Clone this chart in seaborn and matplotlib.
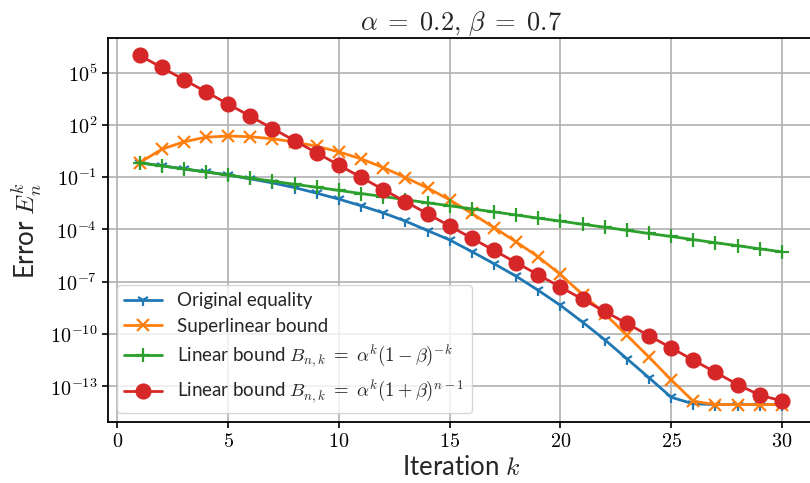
import matplotlib
matplotlib.use("Agg")
import matplotlib.pyplot as plt
import matplotlib.ticker as mticker
import seaborn as sns
import numpy as np

# iterations
k = list(range(1, 31))

# log10 of the error
log_original = [-0.17, -0.35, -0.53, -0.70, -0.88, -1.10, -1.33, -1.60, -1.92, -2.26,
                -2.64, -3.05, -3.52, -4.06, -4.60, -5.27, -5.96, -6.68, -7.49, -8.35,
                -9.31, -10.32, -11.41, -12.50, -13.62, -14.00, -14.04, -14.04, -14.04, -14.04]
log_superlinear = [-0.17, 0.60, 1.03, 1.29, 1.36, 1.32, 1.20, 1.02, 0.77, 0.45,
                   0.05, -0.45, -1.02, -1.62, -2.30, -3.08, -3.89, -4.71, -5.57, -6.58,
                   -7.73, -8.83, -10.07, -11.32, -12.62, -13.85, -14.04, -14.04, -14.04, -14.04]
log_linear1 = [-0.18, -0.35, -0.53, -0.70, -0.88, -1.06, -1.23, -1.41, -1.58, -1.76,
               -1.94, -2.11, -2.29, -2.47, -2.64, -2.82, -2.99, -3.17, -3.35, -3.52,
               -3.70, -3.87, -4.05, -4.23, -4.40, -4.58, -4.76, -4.93, -5.11, -5.28]
log_linear2 = [5.98, 5.29, 4.59, 3.89, 3.19, 2.49, 1.79, 1.09, 0.39, -0.31,
               -1.01, -1.71, -2.40, -3.10, -3.80, -4.50, -5.20, -5.90, -6.60, -7.30,
               -8.00, -8.70, -9.39, -10.09, -10.79, -11.49, -12.19, -12.89, -13.50, -13.83]

labels = [
    "Original equality",
    "Superlinear bound",
    r"Linear bound $B_{n,k} \;=\; \alpha^k(1-\beta)^{-k}$",
    r"Linear bound $B_{n,k} \;=\; \alpha^k(1+\beta)^{n-1}$",
]

sns.set_style("ticks")
plt.rcParams["font.family"] = ["Lato", "DejaVu Sans"]
plt.rcParams["mathtext.fontset"] = "cm"

fig = plt.figure(figsize=(8.1, 4.83), dpi=100)
ax = fig.add_axes([107.5 / 810, 61 / 483, (814 - 107.5) / 810, 384 / 483])

series = [log_original, log_superlinear, log_linear1, log_linear2]
colors = ["#1f77b4", "#ff7f0e", "#2ca02c", "#d62728"]
markers = ["1", "x", "+", "o"]
msizes = [9, 9, 10, 10]

for vals, lab, c, m, ms in zip(series, labels, colors, markers, msizes):
    sns.lineplot(x=k, y=10.0 ** np.array(vals), ax=ax, label=lab, color=c,
                 marker=m, markersize=ms, markeredgecolor=c, markeredgewidth=1.6,
                 linewidth=2)

ax.set_yscale("log")
ax.set_xlim(-0.45, 31.45)
ax.set_ylim(10 ** -15.04, 10 ** 6.98)
ax.yaxis.set_major_locator(mticker.FixedLocator([10.0 ** e for e in range(5, -14, -3)]))
ax.yaxis.set_minor_locator(mticker.NullLocator())
ax.yaxis.set_major_formatter(mticker.FuncFormatter(lambda v, p: r"$10^{%d}$" % round(np.log10(v))))
ax.set_xticks([0, 5, 10, 15, 20, 25, 30])
ax.xaxis.set_major_formatter(mticker.FuncFormatter(lambda v, p: r"$%d$" % v))
ax.tick_params(axis="both", labelsize=14.5, direction="out", length=4, width=1.2, colors="black")

ax.grid(True, color="#b0b0b0", linewidth=1.2)
for s in ax.spines.values():
    s.set_color("black")
    s.set_linewidth(1.3)
ax.spines["right"].set_visible(False)

ax.set_title(r"$\alpha \;=\; 0.2,\, \beta \;=\; 0.7$", fontsize=19, pad=6)
ax.set_xlabel(r"Iteration $k$", fontsize=18.5, labelpad=3)
ax.set_ylabel(r"Error $E_n^k$", fontsize=18.5)

ax.legend(loc="lower left", fontsize=13.5, framealpha=0.8, labelspacing=0.45)

fig.savefig("out.png", dpi=100)
